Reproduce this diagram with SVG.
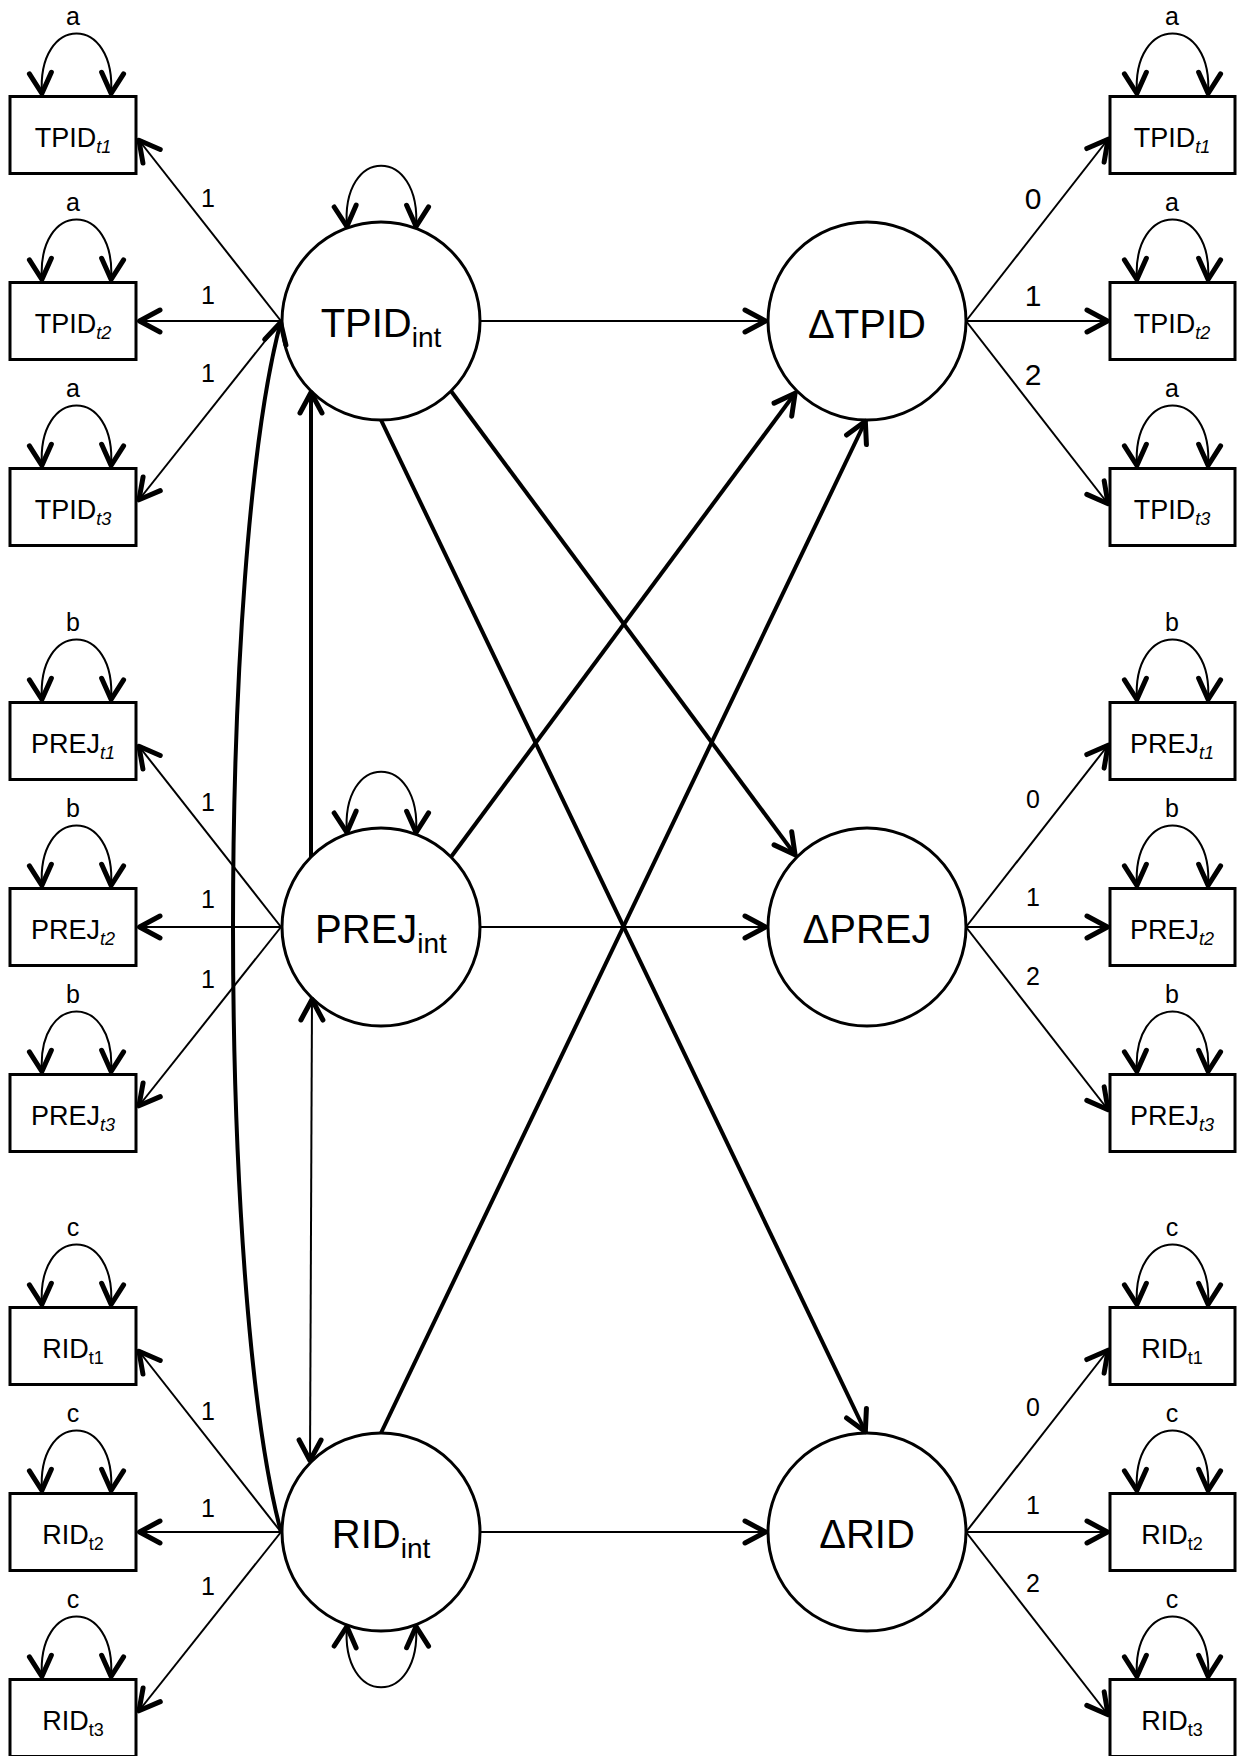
<svg xmlns="http://www.w3.org/2000/svg" width="1237" height="1756" viewBox="0 0 1237 1756">
<defs>
<marker id="ah" markerUnits="userSpaceOnUse" markerWidth="40" markerHeight="40" viewBox="-30 -20 40 40" refX="0" refY="0" orient="auto-start-reverse" overflow="visible">
<path d="M -22 -11 L -1.5 0 L -22 11" fill="none" stroke="#000" stroke-width="5" stroke-linecap="round" stroke-linejoin="round"/>
</marker>
<style>
.thin{fill:none;stroke:#000;stroke-width:2}
.thick{fill:none;stroke:#000;stroke-width:4}
.loop{fill:none;stroke:#000;stroke-width:2;marker-start:url(#ah);marker-end:url(#ah)}
.arr{marker-end:url(#ah)}
.box{fill:#fff;stroke:#000;stroke-width:3}
.circ{fill:#fff;stroke:#000;stroke-width:3}
text{font-family:"Liberation Sans",Arial,sans-serif;fill:#000}
.bt{font-size:27px;text-anchor:middle}
.sub{font-size:18px}
.it{font-style:italic}
.ct{font-size:40px;text-anchor:middle}
.cs{font-size:28px}
.lb{font-size:25px;text-anchor:middle}
.lbb{font-size:30px;text-anchor:middle}
</style>
</defs>
<rect width="1237" height="1756" fill="#fff"/>

<g id="nodes">
<g id="TPID_t1_L"><rect class="box" x="10" y="96.5" width="126" height="77"/><text class="bt" x="73" y="147">TPID<tspan class="sub it" dy="6">t1</tspan></text></g>
<g id="TPID_t2_L"><rect class="box" x="10" y="282.5" width="126" height="77"/><text class="bt" x="73" y="333">TPID<tspan class="sub it" dy="6">t2</tspan></text></g>
<g id="TPID_t3_L"><rect class="box" x="10" y="468.5" width="126" height="77"/><text class="bt" x="73" y="519">TPID<tspan class="sub it" dy="6">t3</tspan></text></g>
<g id="PREJ_t1_L"><rect class="box" x="10" y="702.5" width="126" height="77"/><text class="bt" x="73" y="753">PREJ<tspan class="sub it" dy="6">t1</tspan></text></g>
<g id="PREJ_t2_L"><rect class="box" x="10" y="888.5" width="126" height="77"/><text class="bt" x="73" y="939">PREJ<tspan class="sub it" dy="6">t2</tspan></text></g>
<g id="PREJ_t3_L"><rect class="box" x="10" y="1074.5" width="126" height="77"/><text class="bt" x="73" y="1125">PREJ<tspan class="sub it" dy="6">t3</tspan></text></g>
<g id="RID_t1_L"><rect class="box" x="10" y="1307.5" width="126" height="77"/><text class="bt" x="73" y="1358">RID<tspan class="sub" dy="6">t1</tspan></text></g>
<g id="RID_t2_L"><rect class="box" x="10" y="1493.5" width="126" height="77"/><text class="bt" x="73" y="1544">RID<tspan class="sub" dy="6">t2</tspan></text></g>
<g id="RID_t3_L"><rect class="box" x="10" y="1679.5" width="126" height="77"/><text class="bt" x="73" y="1730">RID<tspan class="sub" dy="6">t3</tspan></text></g>

<g id="TPID_t1_R"><rect class="box" x="1110" y="96.5" width="125" height="77"/><text class="bt" x="1172" y="147">TPID<tspan class="sub it" dy="6">t1</tspan></text></g>
<g id="TPID_t2_R"><rect class="box" x="1110" y="282.5" width="125" height="77"/><text class="bt" x="1172" y="333">TPID<tspan class="sub it" dy="6">t2</tspan></text></g>
<g id="TPID_t3_R"><rect class="box" x="1110" y="468.5" width="125" height="77"/><text class="bt" x="1172" y="519">TPID<tspan class="sub it" dy="6">t3</tspan></text></g>
<g id="PREJ_t1_R"><rect class="box" x="1110" y="702.5" width="125" height="77"/><text class="bt" x="1172" y="753">PREJ<tspan class="sub it" dy="6">t1</tspan></text></g>
<g id="PREJ_t2_R"><rect class="box" x="1110" y="888.5" width="125" height="77"/><text class="bt" x="1172" y="939">PREJ<tspan class="sub it" dy="6">t2</tspan></text></g>
<g id="PREJ_t3_R"><rect class="box" x="1110" y="1074.5" width="125" height="77"/><text class="bt" x="1172" y="1125">PREJ<tspan class="sub it" dy="6">t3</tspan></text></g>
<g id="RID_t1_R"><rect class="box" x="1110" y="1307.5" width="125" height="77"/><text class="bt" x="1172" y="1358">RID<tspan class="sub" dy="6">t1</tspan></text></g>
<g id="RID_t2_R"><rect class="box" x="1110" y="1493.5" width="125" height="77"/><text class="bt" x="1172" y="1544">RID<tspan class="sub" dy="6">t2</tspan></text></g>
<g id="RID_t3_R"><rect class="box" x="1110" y="1679.5" width="125" height="77"/><text class="bt" x="1172" y="1730">RID<tspan class="sub" dy="6">t3</tspan></text></g>

<g id="TPID_int"><circle class="circ" cx="381" cy="321" r="99"/><text class="ct" x="381" y="337">TPID<tspan class="cs" dy="10">int</tspan></text></g>
<g id="PREJ_int"><circle class="circ" cx="381" cy="927" r="99"/><text class="ct" x="381" y="943">PREJ<tspan class="cs" dy="10">int</tspan></text></g>
<g id="RID_int"><circle class="circ" cx="381" cy="1532" r="99"/><text class="ct" x="381" y="1548">RID<tspan class="cs" dy="10">int</tspan></text></g>
<g id="dTPID"><circle class="circ" cx="867" cy="321" r="99"/><text class="ct" x="867" y="338">ΔTPID</text></g>
<g id="dPREJ"><circle class="circ" cx="867" cy="927" r="99"/><text class="ct" x="867" y="943">ΔPREJ</text></g>
<g id="dRID"><circle class="circ" cx="867" cy="1532" r="99"/><text class="ct" x="867" y="1548">ΔRID</text></g>
</g>

<g id="connectors">
<!-- box variance loops, left -->
<path class="loop" d="M 42 95 C 36 13, 117 13, 111 95"/>
<path class="loop" d="M 42 281 C 36 199, 117 199, 111 281"/>
<path class="loop" d="M 42 467 C 36 385, 117 385, 111 467"/>
<path class="loop" d="M 42 701 C 36 619, 117 619, 111 701"/>
<path class="loop" d="M 42 887 C 36 805, 117 805, 111 887"/>
<path class="loop" d="M 42 1073 C 36 991, 117 991, 111 1073"/>
<path class="loop" d="M 42 1306 C 36 1224, 117 1224, 111 1306"/>
<path class="loop" d="M 42 1492 C 36 1410, 117 1410, 111 1492"/>
<path class="loop" d="M 42 1678 C 36 1596, 117 1596, 111 1678"/>
<!-- box variance loops, right -->
<path class="loop" d="M 1137 95 C 1131 13, 1214 13, 1208 95"/>
<path class="loop" d="M 1137 281 C 1131 199, 1214 199, 1208 281"/>
<path class="loop" d="M 1137 467 C 1131 385, 1214 385, 1208 467"/>
<path class="loop" d="M 1137 701 C 1131 619, 1214 619, 1208 701"/>
<path class="loop" d="M 1137 887 C 1131 805, 1214 805, 1208 887"/>
<path class="loop" d="M 1137 1073 C 1131 991, 1214 991, 1208 1073"/>
<path class="loop" d="M 1137 1306 C 1131 1224, 1214 1224, 1208 1306"/>
<path class="loop" d="M 1137 1492 C 1131 1410, 1214 1410, 1208 1492"/>
<path class="loop" d="M 1137 1678 C 1131 1596, 1214 1596, 1208 1678"/>

<g id="loop-labels">
<text class="lb" x="73" y="25">a</text><text class="lb" x="73" y="211">a</text><text class="lb" x="73" y="397">a</text>
<text class="lb" x="73" y="631">b</text><text class="lb" x="73" y="817">b</text><text class="lb" x="73" y="1003">b</text>
<text class="lb" x="73" y="1236">c</text><text class="lb" x="73" y="1422">c</text><text class="lb" x="73" y="1608">c</text>
<text class="lb" x="1172" y="25">a</text><text class="lb" x="1172" y="211">a</text><text class="lb" x="1172" y="397">a</text>
<text class="lb" x="1172" y="631">b</text><text class="lb" x="1172" y="817">b</text><text class="lb" x="1172" y="1003">b</text>
<text class="lb" x="1172" y="1236">c</text><text class="lb" x="1172" y="1422">c</text><text class="lb" x="1172" y="1608">c</text>
</g>

<!-- circle variance loops -->
<path class="loop" d="M 347 228 C 340 145, 422 145, 416 228"/>
<path class="loop" d="M 347 834 C 340 751, 422 751, 416 834"/>
<path class="loop" d="M 347 1625 C 340 1708, 422 1708, 416 1625"/>

<!-- left loadings -->
<path class="thin arr" d="M 281 321 L 138 139"/>
<path class="thin arr" d="M 281 321 L 138 321"/>
<path class="thin arr" d="M 281 321 L 138 501"/>
<path class="thin arr" d="M 281 927 L 138 745"/>
<path class="thin arr" d="M 281 927 L 138 927"/>
<path class="thin arr" d="M 281 927 L 138 1107"/>
<path class="thin arr" d="M 281 1532 L 138 1350"/>
<path class="thin arr" d="M 281 1532 L 138 1532"/>
<path class="thin arr" d="M 281 1532 L 138 1712"/>
<text class="lb" x="208" y="207">1</text><text class="lb" x="208" y="304">1</text><text class="lb" x="208" y="382">1</text>
<text class="lb" x="208" y="811">1</text><text class="lb" x="208" y="908">1</text><text class="lb" x="208" y="988">1</text>
<text class="lb" x="208" y="1420">1</text><text class="lb" x="208" y="1517">1</text><text class="lb" x="208" y="1595">1</text>

<!-- right loadings -->
<path class="thin arr" d="M 966 321 L 1109 138"/>
<path class="thin arr" d="M 966 321 L 1109 321"/>
<path class="thin arr" d="M 966 321 L 1109 505"/>
<path class="thin arr" d="M 966 927 L 1109 744"/>
<path class="thin arr" d="M 966 927 L 1109 927"/>
<path class="thin arr" d="M 966 927 L 1109 1111"/>
<path class="thin arr" d="M 966 1532 L 1109 1349"/>
<path class="thin arr" d="M 966 1532 L 1109 1532"/>
<path class="thin arr" d="M 966 1532 L 1109 1716"/>
<text class="lbb" x="1033" y="209">0</text><text class="lbb" x="1033" y="306">1</text><text class="lbb" x="1033" y="385">2</text>
<text class="lb" x="1033" y="808">0</text><text class="lb" x="1033" y="906">1</text><text class="lb" x="1033" y="985">2</text>
<text class="lb" x="1033" y="1416">0</text><text class="lb" x="1033" y="1514">1</text><text class="lb" x="1033" y="1592">2</text>

<!-- intercept to change -->
<path class="thin arr" d="M 480 321 L 767 321"/>
<path class="thin arr" d="M 480 927 L 767 927"/>
<path class="thin arr" d="M 480 1532 L 767 1532"/>

<!-- cross paths -->
<path class="thick arr" d="M 451 391 L 796 856"/>
<path class="thick arr" d="M 451 857 L 796 392"/>
<path class="thick arr" d="M 381 420 L 866 1433"/>
<path class="thick arr" d="M 381 1433 L 866 420"/>
<path class="thick arr" d="M 311 857 L 311 391"/>
<path class="thin" style="marker-start:url(#ah);marker-end:url(#ah)" d="M 312 998 L 310 1462"/>
<path class="thick arr" d="M 281 1532 C 217 1293, 217 560, 281 321"/>
</g>
</svg>
